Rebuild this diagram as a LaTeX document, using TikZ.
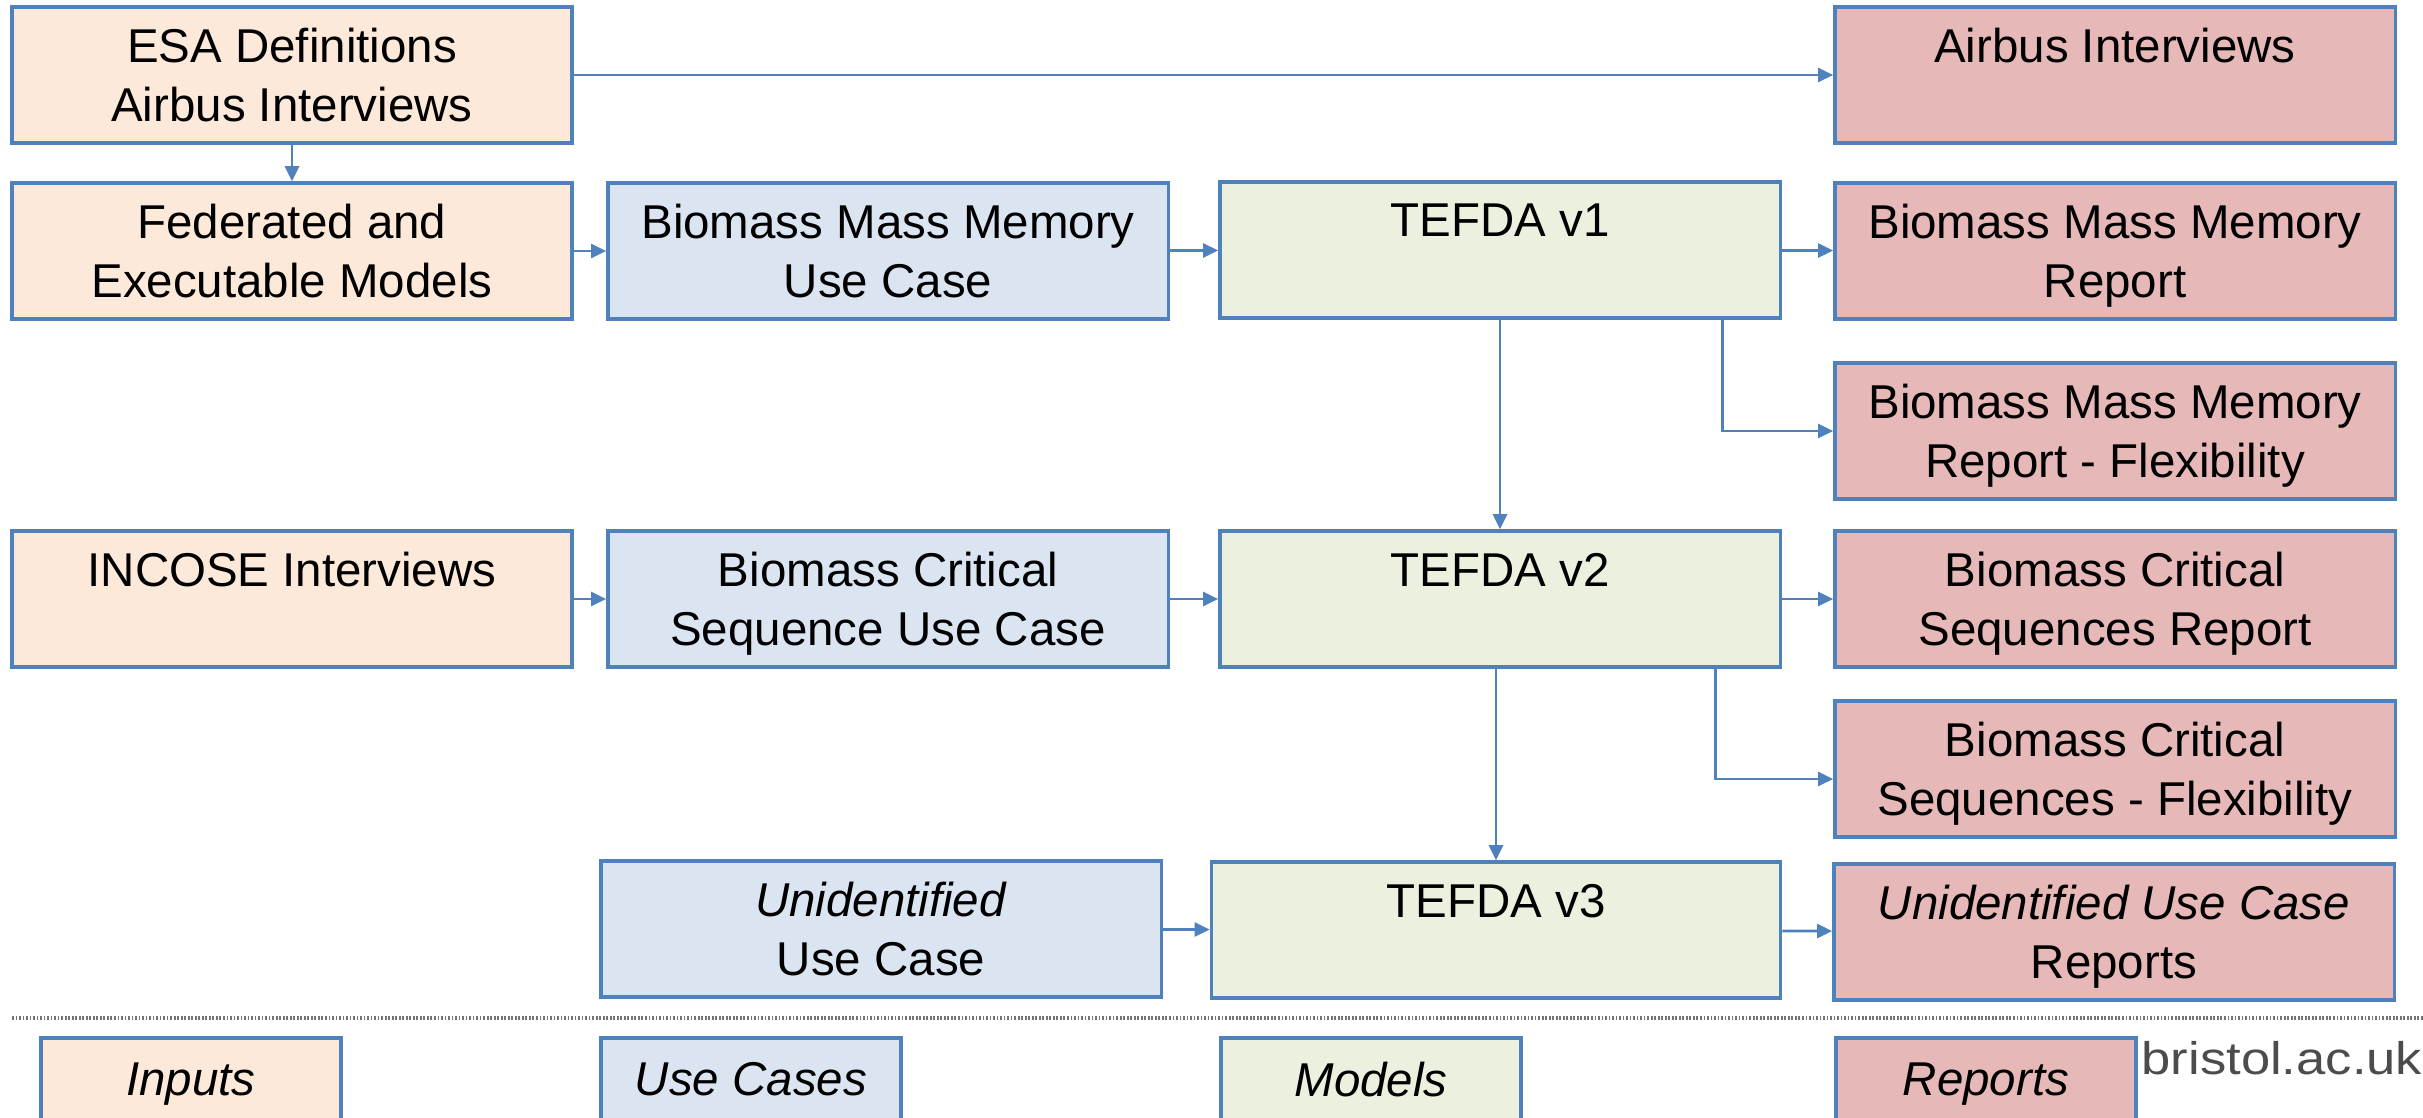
\documentclass[tikz,border=0pt]{standalone}
\usepackage{fontspec}
\setmainfont{Liberation Sans}
\newfontfamily\webfont{Liberation Sans}[FakeStretch=1.15]
\usetikzlibrary{arrows.meta}
\usetikzlibrary{positioning}

\definecolor{edgeblue}{HTML}{4F81BD}
\definecolor{inputfill}{HTML}{FDE9D9}
\definecolor{casefill}{HTML}{DBE5F1}
\definecolor{modelfill}{HTML}{EBF1DE}
\definecolor{reportfill}{HTML}{E6B9B8}

\tikzset{
  box/.style={draw=edgeblue, line width=0.95pt, minimum width=5.6cm, minimum height=1.36cm,
    inner sep=0pt, align=center, text depth=0pt, font=\fontsize{13.5}{16.8}\selectfont},
  inputbox/.style={box, fill=inputfill},
  casebox/.style={box, fill=casefill},
  modelbox/.style={box, fill=modelfill},
  reportbox/.style={box, fill=reportfill},
  legendbox/.style={box, minimum width=3cm, minimum height=1cm, text depth=5pt,
    font=\fontsize{13.5}{16.8}\selectfont\itshape},
  link/.style={draw=edgeblue, line width=0.75pt, -{Triangle[length=4.3pt,width=4pt]}}
}

\begin{document}
\begin{tikzpicture}[x=0.01cm, y=-0.01cm]
    \clip (0,0) rectangle (2423,1118);

    \node[inputbox] (esa) at (292,75) {ESA Definitions\\Airbus Interviews};
    \node[inputbox] (fed) at (292,251) {Federated and\\Executable Models};
    \node[inputbox] (incose) at (292,599) {INCOSE Interviews\\\mbox{}};

    \node[casebox] (bmmcase) at (888,251) {Biomass Mass Memory\\Use Case};
    \node[casebox] (bcscase) at (888,599) {Biomass Critical\\Sequence Use Case};
    \node[casebox] (uncase) at (881,929) {\textit{Unidentified}\\Use Case};

    \node[modelbox] (v1) at (1500,250) {TEFDA v1\\\mbox{}};
    \node[modelbox] (v2) at (1500,599) {TEFDA v2\\\mbox{}};
    \node[modelbox, minimum width=5.69cm] (v3) at (1496,930) {TEFDA v3\\\mbox{}};

    \node[reportbox] (airbus) at (2115,75) {Airbus Interviews\\\mbox{}};
    \node[reportbox] (bmmrep) at (2115,251) {Biomass Mass Memory\\Report};
    \node[reportbox] (bmmflex) at (2115,431) {Biomass Mass Memory\\Report - Flexibility};
    \node[reportbox] (bcsrep) at (2115,599) {Biomass Critical\\Sequences Report};
    \node[reportbox] (bcsflex) at (2115,769) {Biomass Critical\\Sequences - Flexibility};
    \node[reportbox] (unrep) at (2114,932) {\textit{Unidentified Use Case}\\Reports};

    \draw[link] (esa) -- (fed);
    \draw[link] (esa) -- (airbus);
    \draw[link] (fed) -- (bmmcase);
    \draw[link] (bmmcase) -- (v1);
    \draw[link] (v1) -- (bmmrep);
    \draw[link] ([xshift=-0.59cm]v1.south east) |- (bmmflex);
    \draw[link] (v1) -- (v2);
    \draw[link] (incose) -- (bcscase);
    \draw[link] (bcscase) -- (v2);
    \draw[link] (v2) -- (bcsrep);
    \draw[link] ([xshift=-0.66cm]v2.south east) |- ([yshift=-0.1cm]bcsflex.west);
    \draw[link] (v2.south -| v3.north) -- (v3);
    \draw[link] (uncase) -- (v3);
    \draw[link] (v3) -- (unrep);

    \draw[black!55, line width=0.9pt, dash pattern=on 0.5pt off 0.5pt] (12,1018) -- (2423,1018);

    \node[legendbox, fill=inputfill] (inputs) at (191,1088) {Inputs};
    \node[legendbox, fill=casefill] (cases) at (751,1088) {Use Cases};
    \node[legendbox, fill=modelfill] (models) at (1371,1088) {Models};
    \node[legendbox, fill=reportfill] (reports) at (1986,1088) {Reports};
    \node[anchor=base west, inner sep=0pt, text=black!70, font=\webfont\fontsize{13}{16}\selectfont] (web) at (2141,1074) {bristol.ac.uk};
\end{tikzpicture}
\end{document}
